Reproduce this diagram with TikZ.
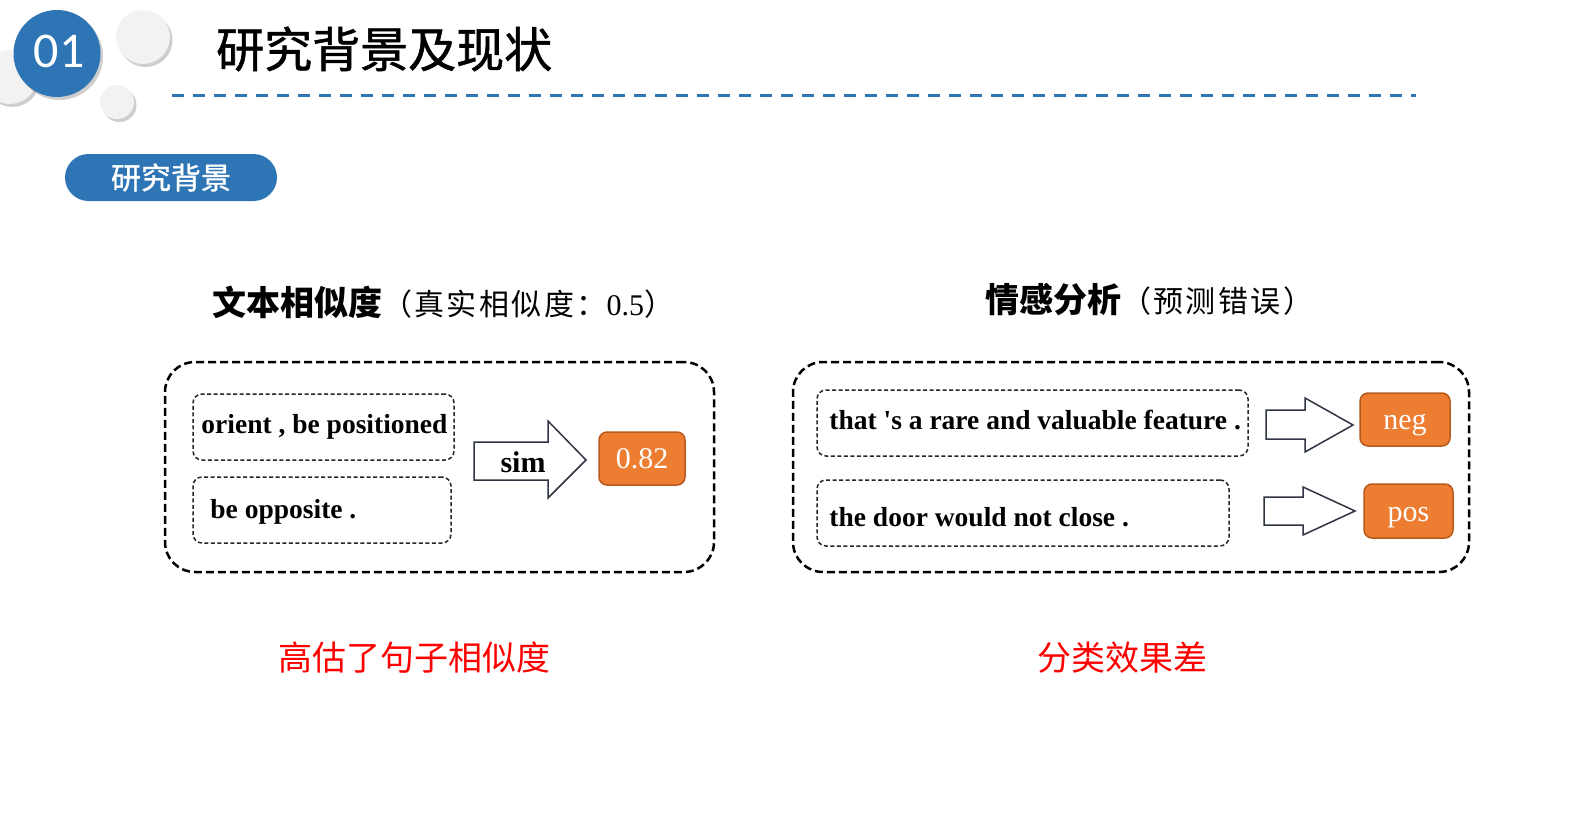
\documentclass[tikz,border=0pt]{standalone}
\usepackage{fontspec}
\setmainfont{Liberation Serif}
\newfontfamily\plainserif[Ligatures=TeXOff]{Liberation Serif}
\newfontfamily\cjk{Noto Sans CJK SC}
\newfontfamily\cjkbold[FakeBold=1.2]{Noto Sans CJK SC}
\newfontfamily\cjkls[LetterSpace=8]{Noto Sans CJK SC}
\newfontfamily\numfont{Carlito}
\usetikzlibrary{shadows}
\definecolor{mblue}{HTML}{2E75B6}
\definecolor{morange}{HTML}{ED7D31}
\definecolor{morangeb}{HTML}{B85A1E}
\definecolor{mgray}{HTML}{F2F2F2}
\definecolor{arrowc}{HTML}{2F3542}
\definecolor{mred}{HTML}{FF0000}
\begin{document}
\begin{tikzpicture}[x=1pt,y=-1pt,
  ball/.style={circle, fill=mgray, inner sep=0pt, drop shadow={shadow xshift=2.5pt, shadow yshift=-3pt, opacity=0.35, fill=black!55}},
  bigbox/.style={draw=black, line width=2.5pt, dash pattern=on 8pt off 4pt, rounded corners=30pt, inner sep=0pt},
  inbox/.style={draw=black!85, line width=1.5pt, dash pattern=on 4pt off 2.5pt, rounded corners=9pt, inner sep=0pt},
  sent/.style={anchor=west, inner sep=0pt, font=\plainserif\fontsize{27.5}{30}\selectfont\bfseries},
  result/.style={fill=morange, draw=morangeb, line width=1.5pt, rounded corners=8pt, text=white, inner sep=0pt, text height=24pt, text depth=4pt, font=\fontsize{30}{32}\selectfont},
  blockarrow/.style={draw=arrowc, fill=white, line width=1.5pt, line join=miter},
  heading/.style={anchor=west, inner sep=0pt},
  note/.style={text=mred, inner sep=0pt, font=\cjk\fontsize{34}{40}\selectfont}
]
\useasboundingbox (0,0) rectangle (1592,832);
\fill[white] (0,0) rectangle (1592,832);

% decorative circles
\node[ball, minimum size=54] (g1) at (10,77) {};
\node[ball, minimum size=54] (g2) at (143,37) {};
\node[ball, minimum size=34] (g3) at (117,102) {};
\node[circle, fill=mblue, inner sep=0pt, minimum size=87, drop shadow={shadow xshift=2.5pt, shadow yshift=-3pt, opacity=0.35, fill=black!55}] (c01) at (57,53.5) {};
\node[text=white, inner sep=0pt, font=\numfont\fontsize{50}{52}\selectfont] (n01) at (59,51) {01};

% title
\node[heading, font=\cjkbold\fontsize{48}{54}\selectfont] (title) at (216,49) {研究背景及现状};
\draw[mblue, line width=3pt, dash pattern=on 12pt off 9pt] (172,96) -- (1416,96);

% pill
\node[fill=mblue, rounded corners=23.5pt, minimum width=212, minimum height=47, inner sep=0pt, text=white, font=\cjkbold\fontsize{30}{34}\selectfont] (pill) at (171,177.5) {研究背景};

% headings
\node[heading] (h1) at (212,302) {{\cjk\fontsize{34}{40}\selectfont\bfseries 文本相似度}{\cjkls\fontsize{30}{36}\selectfont（真实相似度：}{\fontsize{30}{36}\selectfont 0.5}{\cjk\fontsize{30}{36}\selectfont）}};
\node[heading] (h2) at (985,300) {{\cjk\fontsize{34}{40}\selectfont\bfseries 情感分析}{\cjkls\fontsize{30}{36}\selectfont（预测错误）}};

% left panel
\node[bigbox, minimum width=549, minimum height=210] (L) at (439.5,467) {};
\node[inbox, minimum width=261, minimum height=66] (b1) at (323.5,427) {};
\node[inbox, minimum width=258, minimum height=66] (b2) at (322,510) {};
\node[sent] (t1) at ([xshift=9pt,yshift=0pt]b1.west) {orient , be positioned};
\node[sent] (t2) at ([xshift=18pt,yshift=-2pt]b2.west) {be opposite .};
\draw[blockarrow] (474,442) -- (548,442) -- (548,421) -- (586,460) -- (548,498) -- (548,480) -- (474,480) -- cycle;
\node[inner sep=0pt, font=\fontsize{30}{32}\selectfont\bfseries] (sim) at (523,462) {sim};
\node[result, minimum width=86, minimum height=53] (r1) at (642,458.5) {0.82};

% right panel
\node[bigbox, minimum width=676, minimum height=210] (R) at (1131,467) {};
\node[inbox, minimum width=431, minimum height=66] (b3) at (1032.5,423) {};
\node[inbox, minimum width=412, minimum height=66] (b4) at (1023,513) {};
\node[sent] (t3) at ([xshift=13pt,yshift=3pt]b3.west) {that 's a rare and valuable feature .};
\node[sent] (t4) at ([xshift=13pt,yshift=-4pt]b4.west) {the door would not close .};
\draw[blockarrow] (1266,410) -- (1305,410) -- (1305,398) -- (1353,425) -- (1305,452) -- (1305,439) -- (1266,439) -- cycle;
\draw[blockarrow] (1264,497) -- (1303,497) -- (1303,487) -- (1355,511) -- (1303,535) -- (1303,525) -- (1264,525) -- cycle;
\node[result, minimum width=90, minimum height=53] (neg) at (1405,419.5) {neg};
\node[result, minimum width=89, minimum height=54] (pos) at (1408.5,511) {pos};

% conclusions
\node[note] (c1) at (414.5,658) {高估了句子相似度};
\node[note] (c2) at (1122,658) {分类效果差};
\end{tikzpicture}
\end{document}
